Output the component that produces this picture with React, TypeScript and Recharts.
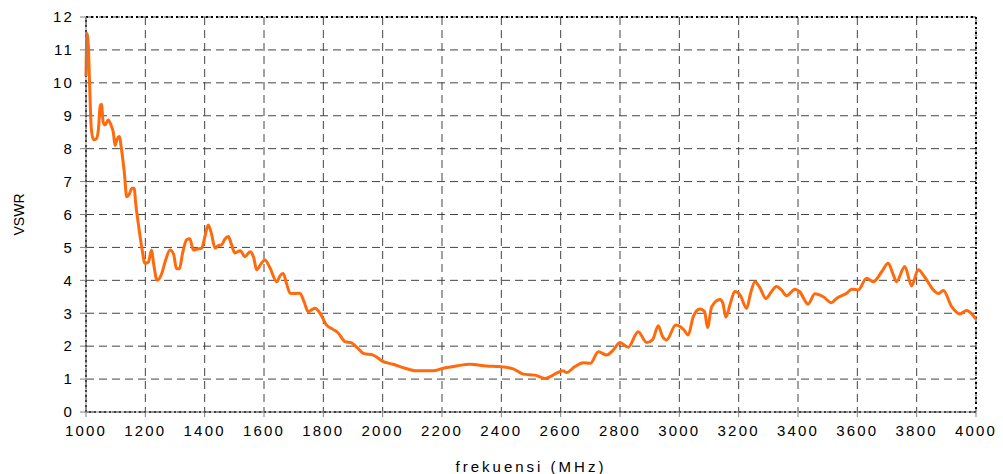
import React from "react";
import {
    LineChart,
    Line,
    XAxis,
    YAxis,
    CartesianGrid,
    ReferenceArea,
    Label,
} from "recharts";

const freq = [
    1000, 1003, 1008, 1012, 1018, 1025, 1035, 1042, 1048, 1052, 1058, 1064, 1075, 1085, 1092,
    1098, 1105, 1112, 1120, 1130, 1137, 1145, 1155, 1162, 1168, 1176, 1188, 1199, 1210, 1221,
    1228, 1240, 1255, 1268, 1283, 1295, 1305, 1315, 1325, 1339, 1350, 1362, 1375, 1390, 1400,
    1412, 1422, 1435, 1445, 1457, 1468, 1480, 1490, 1502, 1520, 1536, 1553, 1565, 1575, 1590,
    1603, 1620, 1643, 1655, 1665, 1676, 1688, 1705, 1721, 1735, 1749, 1760, 1772, 1789, 1811,
    1833, 1850, 1873, 1895, 1915, 1935, 1968, 2002, 2035, 2075, 2114, 2170, 2204, 2249, 2294,
    2350, 2395, 2440, 2474, 2513, 2547, 2570, 2586, 2608, 2620, 2648, 2676, 2700, 2727, 2755,
    2777, 2800, 2828, 2861, 2890, 2910, 2929, 2943, 2957, 2988, 3002, 3015, 3030, 3047, 3069,
    3085, 3095, 3109, 3137, 3147, 3157, 3172, 3187, 3205, 3227, 3240, 3255, 3270, 3292, 3310,
    3327, 3345, 3361, 3390, 3405, 3434, 3457, 3485, 3513, 3530, 3564, 3581, 3603, 3631, 3654,
    3682, 3704, 3720, 3732, 3760, 3783, 3805, 3827, 3856, 3873, 3890, 3918, 3946, 3968, 4000,
];

const vswr = [
    10.2, 11.5, 11.1, 10.0, 8.6, 8.27, 8.3, 8.6, 9.3, 9.35, 8.8, 8.72, 8.87, 8.7, 8.5,
    8.1, 8.3, 8.37, 7.96, 7.2, 6.54, 6.6, 6.8, 6.8, 6.3, 5.74, 5.0, 4.52, 4.55, 4.92,
    4.5, 4.0, 4.2, 4.6, 4.92, 4.8, 4.35, 4.35, 4.8, 5.23, 5.26, 4.92, 4.95, 4.98, 5.3,
    5.68, 5.45, 4.98, 5.05, 5.08, 5.25, 5.33, 5.1, 4.83, 4.9, 4.72, 4.87, 4.7, 4.32, 4.5,
    4.62, 4.38, 3.96, 4.15, 4.21, 3.9, 3.61, 3.6, 3.61, 3.35, 3.05, 3.1, 3.15, 3.0, 2.64,
    2.51, 2.4, 2.14, 2.1, 1.95, 1.78, 1.73, 1.53, 1.45, 1.33, 1.25, 1.25, 1.33, 1.4, 1.45,
    1.4, 1.38, 1.31, 1.15, 1.12, 1.02, 1.1, 1.18, 1.25, 1.2, 1.38, 1.5, 1.48, 1.83, 1.73,
    1.88, 2.11, 1.97, 2.44, 2.11, 2.2, 2.62, 2.3, 2.19, 2.64, 2.6, 2.5, 2.34, 2.9, 3.13,
    3.05, 2.57, 3.2, 3.42, 3.3, 2.88, 3.3, 3.66, 3.55, 3.15, 3.6, 3.96, 3.8, 3.45, 3.65,
    3.81, 3.7, 3.53, 3.73, 3.66, 3.28, 3.59, 3.5, 3.32, 3.45, 3.61, 3.73, 3.71, 4.06, 3.96,
    4.26, 4.52, 4.2, 3.96, 4.42, 3.83, 4.32, 4.1, 3.71, 3.6, 3.69, 3.2, 2.98, 3.08, 2.82,
];

const xTicks = [1000, 1200, 1400, 1600, 1800, 2000, 2200, 2400, 2600, 2800, 3000, 3200, 3400, 3600, 3800, 4000];
const yTicks = [0, 1, 2, 3, 4, 5, 6, 7, 8, 9, 10, 11, 12];

const data = freq.map((f, i) => ({ f, v: vswr[i] }));

const font = "'Liberation Sans', Arial, sans-serif";
const tickStyle = { fill: "#000", fontSize: 15, fontFamily: font, letterSpacing: 2.2 };

const App = () => {
    return (
        <div style={{ position: "absolute", left: 0, top: 0, background: "#fff" }}>
            <LineChart
                width={1003}
                height={474}
                data={data}
                margin={{ top: 17, right: 27, left: 26, bottom: 0 }}
            >
                <CartesianGrid
                    stroke="#444"
                    strokeDasharray="8 5"
                    horizontalValues={yTicks}
                    verticalValues={xTicks}
                />
                <XAxis
                    dataKey="f"
                    type="number"
                    domain={[1000, 4000]}
                    ticks={xTicks}
                    interval={0}
                    height={62}
                    tick={tickStyle}
                    tickSize={5}
                    tickMargin={8}
                    axisLine={{ stroke: "#808080" }}
                    tickLine={{ stroke: "#808080" }}
                >
                    <Label
                        value="frekuensi (MHz)"
                        position="insideBottom"
                        offset={2}
                        style={{ fill: "#000", fontSize: 15, fontFamily: font, letterSpacing: 3 }}
                    />
                </XAxis>
                <YAxis
                    type="number"
                    domain={[0, 12]}
                    ticks={yTicks}
                    interval={0}
                    width={60}
                    tick={tickStyle}
                    tickSize={6}
                    tickMargin={6}
                    axisLine={{ stroke: "#808080" }}
                    tickLine={{ stroke: "#808080" }}
                >
                    <Label
                        value="VSWR"
                        angle={-90}
                        position="insideLeft"
                        offset={-7}
                        style={{ fill: "#000", fontSize: 14, fontFamily: font, textAnchor: "middle" }}
                    />
                </YAxis>
                <ReferenceArea
                    x1={1000}
                    x2={4000}
                    y1={0}
                    y2={12}
                    fill="none"
                    stroke="#000"
                    strokeWidth={2}
                    strokeDasharray="2 3"
                />
                <Line
                    type="monotone"
                    dataKey="v"
                    stroke="#FF6A0D"
                    strokeWidth={3}
                    dot={false}
                    isAnimationActive={false}
                />
            </LineChart>
        </div>
    );
};

export default App;
